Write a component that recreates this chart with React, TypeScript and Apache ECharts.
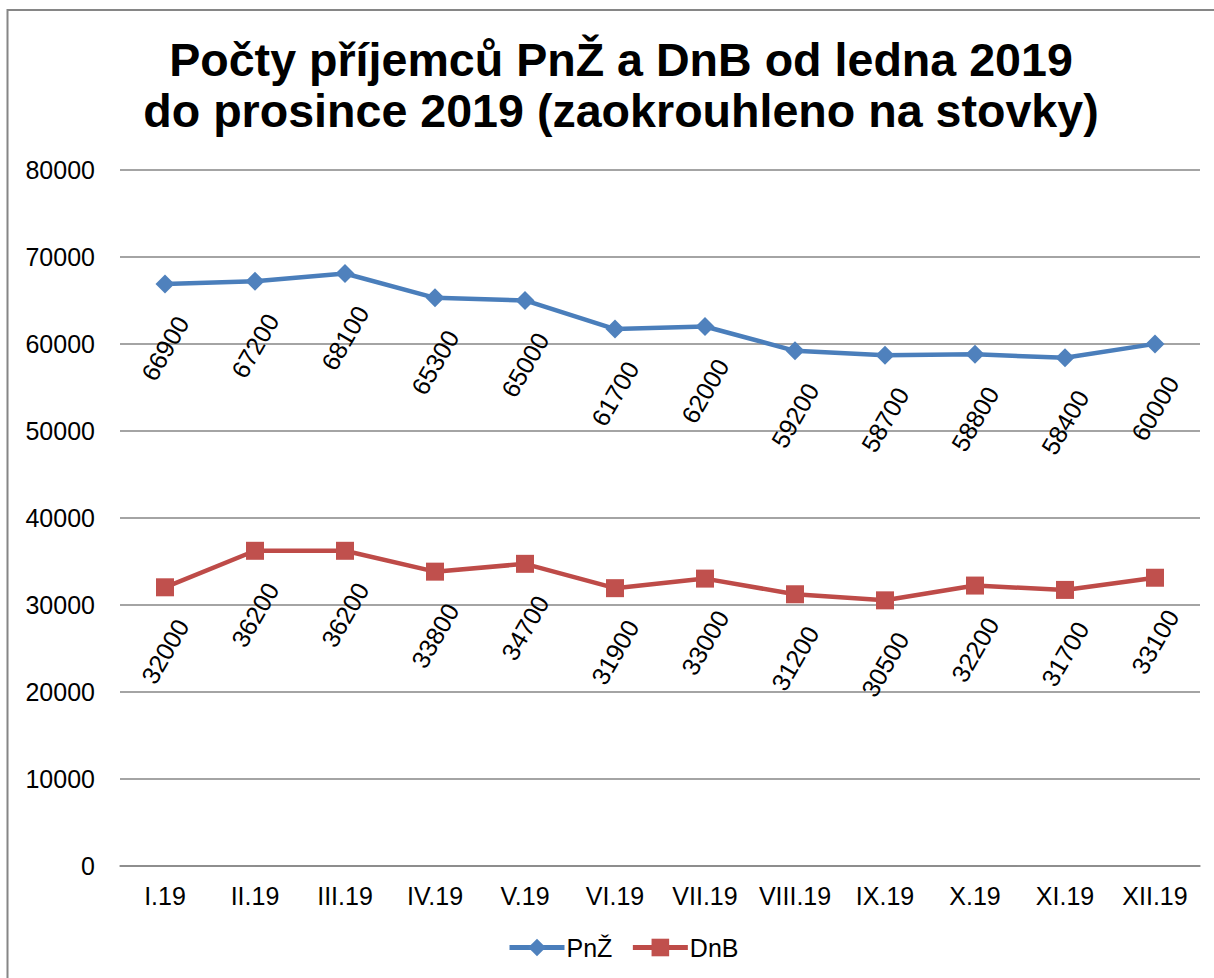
import React, { useEffect, useRef } from "react";
import * as echarts from "echarts";

const categories = ["I.19", "II.19", "III.19", "IV.19", "V.19", "VI.19", "VII.19", "VIII.19", "IX.19", "X.19", "XI.19", "XII.19"];
const pnzValues = [66900, 67200, 68100, 65300, 65000, 61700, 62000, 59200, 58700, 58800, 58400, 60000];
const dnbValues = [32000, 36200, 36200, 33800, 34700, 31900, 33000, 31200, 30500, 32200, 31700, 33100];
const titleText = "Počty příjemců PnŽ a DnB od ledna 2019\ndo prosince 2019 (zaokrouhleno na stovky)";

const FONT = '"Liberation Sans", Arial, sans-serif';

export default function App() {
  const ref = useRef<HTMLDivElement>(null);
  useEffect(() => {
    if (!ref.current) return;
    const chart = echarts.init(ref.current, null, { renderer: "svg" });
    const labelCfg = {
      show: true,
      position: "bottom",
      distance: 55,
      rotate: 60,
      align: "center",
      verticalAlign: "middle",
      fontSize: 25,
      color: "#000",
      fontFamily: FONT,
    };
    chart.setOption({
      animation: false,
      backgroundColor: "#fff",
      textStyle: { fontFamily: FONT },
      graphic: [
        {
          type: "rect",
          shape: { x: 7.5, y: 10, width: 1400, height: 1200 },
          style: { fill: "none", stroke: "#868686", lineWidth: 2 },
          silent: true,
        },
        {
          type: "text",
          x: 621,
          y: 34,
          style: {
            text: titleText,
            font: `bold 46.6px ${FONT}`,
            fill: "#000",
            textAlign: "center",
            textVerticalAlign: "top",
            lineHeight: 51,
          },
        },
      ],
      legend: {
        data: ["PnŽ", "DnB"],
        left: 502,
        top: 930,
        itemWidth: 55,
        itemHeight: 22,
        itemGap: 18,
        lineStyle: { width: 5 },
        textStyle: { fontSize: 25, color: "#000", fontFamily: FONT, padding: [0, 0, 0, -3] },
      },
      grid: { left: 120, right: 14, top: 170, bottom: 112.5, containLabel: false },
      xAxis: {
        type: "category",
        data: categories,
        boundaryGap: true,
        axisLine: { show: true, lineStyle: { color: "#868686", width: 1.5 } },
        axisTick: { show: false },
        axisLabel: { fontSize: 25, color: "#000", margin: 18, fontFamily: FONT, interval: 0 },
      },
      yAxis: {
        type: "value",
        min: 0,
        max: 80000,
        interval: 10000,
        axisLine: { show: false },
        axisTick: { show: false },
        axisLabel: {
          fontSize: 25,
          color: "#000",
          margin: 25,
          fontFamily: FONT,
          formatter: (v: number) => String(v),
        },
        splitLine: { lineStyle: { color: "#868686", width: 1.5 } },
      },
      series: [
        {
          name: "PnŽ",
          type: "line",
          data: pnzValues,
          symbol: "diamond",
          symbolSize: 19,
          lineStyle: { color: "#4A7EBB", width: 4.5 },
          itemStyle: { color: "#4F81BD" },
          label: labelCfg,
        },
        {
          name: "DnB",
          type: "line",
          data: dnbValues,
          symbol: "rect",
          symbolSize: 18,
          lineStyle: { color: "#BE4B48", width: 4.5 },
          itemStyle: { color: "#C0504D" },
          label: labelCfg,
        },
      ],
    });
    return () => chart.dispose();
  }, []);
  return (
    <div
      ref={ref}
      style={{ position: "absolute", left: 0, top: 0, width: 1214, height: 978 }}
    />
  );
}
